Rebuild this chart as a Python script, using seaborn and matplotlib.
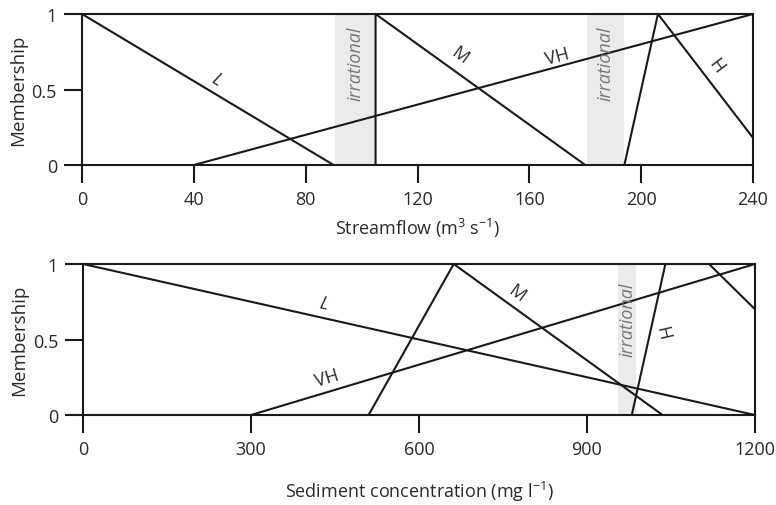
import matplotlib
matplotlib.use("Agg")
import matplotlib.pyplot as plt
import seaborn as sns
import pandas as pd

# ---- data: streamflow membership functions (x, membership) ----
flow_L_x = [0, 90]
flow_L_y = [1, 0]
flow_M_x = [105, 105, 180]
flow_M_y = [0, 1, 0]
flow_VH_x = [40, 240]
flow_VH_y = [0, 1]
flow_H_x = [194, 206, 240]
flow_H_y = [0, 1, 0.18]
flow_irr = [(90.5, 105), (180.5, 194)]
flow_ticks = [0, 40, 80, 120, 160, 200, 240]

# ---- data: sediment concentration membership functions ----
sed_L_x = [0, 1200]
sed_L_y = [1, 0]
sed_M_x = [510, 662, 1035]
sed_M_y = [0, 1, 0]
sed_VH_x = [300, 1200]
sed_VH_y = [0, 1]
sed_H_x = [980, 1040, 1118, 1200]
sed_H_y = [0, 1, 1, 0.7]
sed_irr = [(955, 988)]
sed_ticks = [0, 300, 600, 900, 1200]

y_ticks = [0, 0.5, 1]
y_ticklabels = ["0", "0.5", "1"]

sns.set_theme(style="ticks")
plt.rcParams['font.family'] = ['Open Sans', 'DejaVu Sans']
plt.rcParams['mathtext.fontset'] = 'custom'
plt.rcParams['mathtext.rm'] = 'Open Sans'
plt.rcParams['mathtext.it'] = 'Open Sans:italic'

fig = plt.figure(figsize=(7.76, 5.06), dpi=100)
ax1 = fig.add_axes([82/776, 1-166/506, (753-82)/776, (166-15)/506])
ax2 = fig.add_axes([83/776, 1-416/506, (755-83)/776, (416-265)/506])

LC = "#1a1a1a"
TC = "#2a2a2a"
LW = 1.5
FS = 13


def draw(ax, series):
    rows = []
    for name, xs, ys in series:
        for i, (x, y) in enumerate(zip(xs, ys)):
            rows.append(dict(set=name, order=i, x=x, y=y))
    df = pd.DataFrame(rows)
    for name, sub in df.groupby("set", sort=False):
        sns.lineplot(data=sub, x="x", y="y", ax=ax, color=LC, lw=LW,
                     sort=False, estimator=None, legend=False)


def style(ax, xlim, ticks, xlabel, xpad):
    ax.set_xlim(*xlim)
    ax.set_ylim(0, 1)
    ax.set_xticks(ticks)
    ax.set_xticklabels([str(t) for t in ticks])
    ax.set_yticks(y_ticks)
    ax.set_yticklabels(y_ticklabels)
    for s in ax.spines.values():
        s.set_visible(True)
        s.set_color(LC)
        s.set_linewidth(1.5)
    ax.tick_params(axis="both", direction="out", length=13, width=1.5,
                   color=LC, labelsize=FS, labelcolor=TC, pad=5)
    ax.set_xlabel(xlabel, fontsize=FS, color=TC, labelpad=xpad)
    ax.set_ylabel("Membership", fontsize=FS + 0.5, color=TC, labelpad=3)
    ax.set_facecolor("white")


# top panel
for a, b in flow_irr:
    ax1.axvspan(a, b, color="#ebebeb", lw=0, zorder=0)
draw(ax1, [("L", flow_L_x, flow_L_y), ("M", flow_M_x, flow_M_y),
           ("VH", flow_VH_x, flow_VH_y), ("H", flow_H_x, flow_H_y)])
style(ax1, (0, 240), flow_ticks, "Streamflow (m$^{3}$ s$^{-1}$)", 6)
kw = dict(fontsize=FS, color=TC, ha="center", va="center")
ax1.text(48, 0.57, "L", rotation=-31, style="italic", **kw)
ax1.text(135, 0.73, "M", rotation=-36, **kw)
ax1.text(170, 0.72, "VH", rotation=15, **kw)
ax1.text(227, 0.66, "H", rotation=-53, **kw)
for a, b in flow_irr:
    ax1.text((a + b) / 2, 0.68, "irrational", rotation=90, style="italic",
             fontsize=FS, color="#777777", ha="center", va="center")

# bottom panel
for a, b in sed_irr:
    ax2.axvspan(a, b, color="#ebebeb", lw=0, zorder=0)
draw(ax2, [("L", sed_L_x, sed_L_y), ("M", sed_M_x, sed_M_y),
           ("VH", sed_VH_x, sed_VH_y), ("H", sed_H_x, sed_H_y)])
style(ax2, (0, 1200), sed_ticks, "Sediment concentration (mg l$^{-1}$)", 15)
ax2.text(430, 0.74, "L", rotation=-13, style="italic", **kw)
ax2.text(435, 0.25, "VH", rotation=17, **kw)
ax2.text(775, 0.81, "M", rotation=-36, **kw)
ax2.text(1035, 0.55, "H", rotation=-77, **kw)
for a, b in sed_irr:
    ax2.text((a + b) / 2, 0.64, "irrational", rotation=90, style="italic",
             fontsize=FS, color="#777777", ha="center", va="center")

fig.savefig("out.png", dpi=100, facecolor="white")
